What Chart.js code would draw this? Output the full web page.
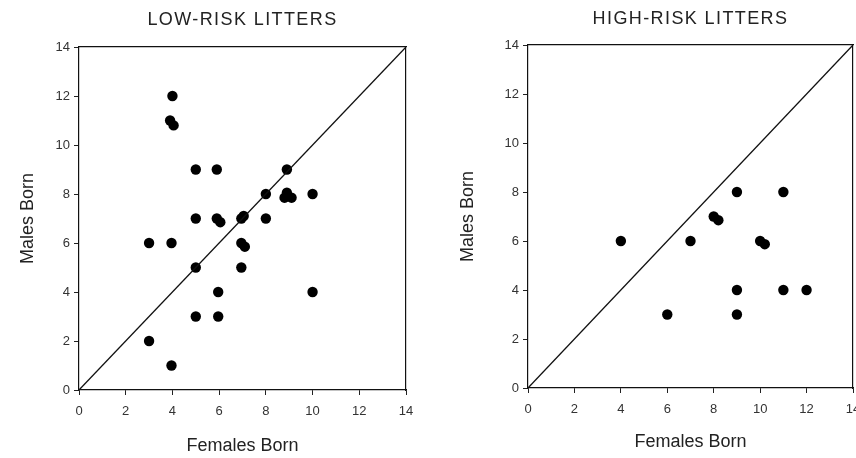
<!DOCTYPE html>
<html>
<head>
<meta charset="utf-8">
<script src="https://cdn.jsdelivr.net/npm/chart.js@4"></script>
<style>
  html, body { margin: 0; padding: 0; background: #fff; overflow: hidden; width: 856px; height: 458px; }
  canvas { position: absolute; top: 0; }
  #c1 { left: 0; }
  #c2 { left: 430px; }
</style>
</head>
<body>
<canvas id="c1" width="430" height="458"></canvas>
<canvas id="c2" width="440" height="458"></canvas>
<script>
// ---- data ----
const titles = ['LOW-RISK LITTERS', 'HIGH-RISK LITTERS'];
const xAxisTitle = 'Females Born';
const yAxisTitle = 'Males Born';
const axisMin = 0;
const axisMax = 14;
const tickStep = 2;

const lowFemales = [4, 3.9, 4.05, 5, 5.9, 5, 5.9, 6.05, 3, 3.96, 5, 6.95, 7.05, 6.95, 7.1, 6.95, 8, 8, 8.9, 8.9, 8.8, 9.1, 10, 10, 5.96, 5, 5.96, 3, 3.96];
const lowMales   = [12, 11, 10.8, 9, 9, 7, 7, 6.85, 6, 6, 5, 7, 7.1, 6, 5.85, 5, 8, 7, 9, 8.05, 7.85, 7.85, 8, 4, 4, 3, 3, 2, 1];

const highFemales = [4, 7, 6, 8, 8.2, 9, 11, 10, 10.2, 9, 11, 12, 9];
const highMales   = [6, 6, 3, 7, 6.85, 8, 8, 6, 5.87, 4, 4, 4, 3];

const diagX = [0, 14];
const diagY = [0, 14];

// ---- build ----
const FONT = "'Liberation Sans', Arial, Helvetica, sans-serif";
const TXT = '#222';

function pts(xs, ys) { return xs.map((x, i) => ({ x: x, y: ys[i] })); }

// widen tracking of the panel titles only (top scale's title layer drawn after datasets)
const trackingPlugin = {
  id: 'tracking',
  afterDatasetsDraw(chart) { chart.ctx.letterSpacing = '1.4px'; },
  afterDraw(chart) { chart.ctx.letterSpacing = '0px'; }
};

function makeChart(id, title, xs, ys, geo) {
  const ctx = document.getElementById(id);
  return new Chart(ctx, {
    type: 'scatter',
    plugins: [trackingPlugin],
    data: {
      datasets: [
        {
          type: 'line',
          data: pts(diagX, diagY),
          borderColor: '#111',
          borderWidth: 1.3,
          pointRadius: 0,
          fill: false,
          tension: 0
        },
        {
          data: pts(xs, ys),
          backgroundColor: '#000',
          borderColor: '#000',
          pointRadius: 5.2,
          pointHoverRadius: 5.2,
          borderWidth: 0
        }
      ]
    },
    options: {
      responsive: false,
      animation: false,
      layout: { padding: 0 },
      plugins: { legend: { display: false }, tooltip: { enabled: false }, title: { display: false } },
      scales: {
        x: {
          type: 'linear', position: 'bottom', min: axisMin, max: axisMax,
          grid: { display: true, drawOnChartArea: false, drawTicks: true, tickLength: 5, color: '#222', lineWidth: 1 },
          border: { display: true, color: '#111', width: 1.2 },
          ticks: { stepSize: tickStep, color: '#333', padding: 9, font: { family: FONT, size: 13 } },
          title: { display: true, text: xAxisTitle, color: TXT, font: { family: FONT, size: 18 }, padding: { top: 0, bottom: geo.xTitlePad } },
          afterFit: s => { s.height = geo.xH; }
        },
        y: {
          type: 'linear', position: 'left', min: axisMin, max: axisMax,
          grid: { display: true, drawOnChartArea: false, drawTicks: true, tickLength: 5, color: '#222', lineWidth: 1 },
          border: { display: true, color: '#111', width: 1.2 },
          ticks: { stepSize: tickStep, color: '#333', padding: 4, font: { family: FONT, size: 13 } },
          title: { display: true, text: yAxisTitle, color: TXT, font: { family: FONT, size: 18 }, padding: { top: geo.yTitlePad, bottom: 0 } },
          afterFit: s => { s.width = geo.yW; }
        },
        xTop: {
          type: 'linear', axis: 'x', position: 'top', min: axisMin, max: axisMax,
          grid: { display: false, z: 1 },
          border: { display: true, color: '#111', width: 1.2, z: 1 },
          ticks: { display: false },
          title: { display: true, text: title, color: TXT, font: { family: FONT, size: 18 }, padding: { top: geo.tTitlePad, bottom: 0 } },
          afterFit: s => { s.height = geo.topH; }
        },
        yRight: {
          type: 'linear', axis: 'y', position: 'right', min: axisMin, max: axisMax,
          grid: { display: false },
          border: { display: true, color: '#111', width: 1.2 },
          ticks: { display: false },
          afterFit: s => { s.width = geo.rightW; }
        }
      }
    }
  });
}

makeChart('c1', titles[0], lowFemales, lowMales,
  { xH: 68, yW: 79, topH: 47, rightW: 24, xTitlePad: 1.5, yTitlePad: 17, tTitlePad: 9.5 });
makeChart('c2', titles[1], highFemales, highMales,
  { xH: 70, yW: 98, topH: 45, rightW: 17, xTitlePad: 5.5, yTitlePad: 27, tTitlePad: 8 });
</script>
</body>
</html>
